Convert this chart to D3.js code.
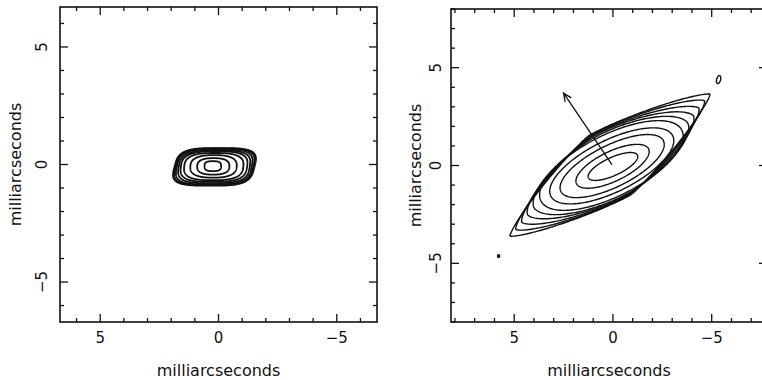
<!DOCTYPE html>
<html>
<head>
<meta charset="utf-8">
<script src="https://cdn.jsdelivr.net/npm/d3@7"></script>
<style>
  body { margin: 0; background: #fff; }
  svg { display: block; }
  text { font-family: "DejaVu Sans", sans-serif; fill: #111; }
</style>
</head>
<body>
<svg id="chart" width="762" height="380"></svg>
<script>
// Labelled axis ticks, milliarcseconds (east to the left)
const majorTicks = [5, 0, -5];
const tickLabels = ["5", "0", "\u22125"];
const axisTitle = "milliarcseconds";

// Left map: nested contours, outermost first
const leftCx    = [0.17, 0.17, 0.18, 0.18, 0.19, 0.20, 0.21, 0.22, 0.24];
const leftCy    = [-0.10, -0.10, -0.10, -0.10, -0.09, -0.09, -0.08, -0.08, -0.07];
const leftA     = [1.69, 1.64, 1.58, 1.50, 1.40, 1.25, 0.98, 0.68, 0.35];
const leftB     = [0.80, 0.78, 0.75, 0.70, 0.65, 0.58, 0.48, 0.35, 0.21];
const leftPow   = [3.6, 3.5, 3.4, 3.2, 3.0, 2.8, 2.6, 2.6, 3.0];
const leftShear = [0.25, 0.23, 0.20, 0.17, 0.14, 0.10, 0.06, 0.03, 0.0];

// Right map: nested contours, outermost first (position angle in degrees)
const rightCx  = [0.15, 0.14, 0.13, 0.12, 0.10, 0.08, 0.06, 0.04, 0.02, 0.0];
const rightCy  = [0.02, 0.02, 0.01, 0.01, 0.0, 0.0, -0.02, -0.03, -0.04, -0.05];
const rightA   = [6.23, 5.80, 5.35, 4.90, 4.45, 4.00, 3.45, 2.90, 2.03, 1.37];
const rightB   = [1.85, 1.80, 1.77, 1.72, 1.66, 1.57, 1.32, 1.07, 0.76, 0.46];
const rightPow = [1.25, 1.35, 1.45, 1.6, 1.8, 2.0, 2.0, 2.0, 2.0, 2.0];
const rightPA  = [-54.4, -55.5, -57, -59, -61, -63, -63.4, -63.4, -64, -65];

// Isolated small components in the right map
const blobX = [-5.35, 5.79];
const blobY = [4.39, -4.63];
const blobA = [0.21, 0.07];
const blobB = [0.10, 0.05];
const blobPA = [-15, 0];

// Direction arrow in the right map (start, end)
const arrowFrom = [0.05, 0.05];
const arrowTo = [2.5, 3.7];

const svg = d3.select("#chart");

function contourPoints(c) {
  const n = 240, pts = [];
  const pa = c.pa * Math.PI / 180;
  const e1 = [Math.sin(pa), Math.cos(pa)];
  const e2 = [Math.cos(pa), -Math.sin(pa)];
  for (let i = 0; i < n; i++) {
    const t = 2 * Math.PI * i / n;
    const ct = Math.cos(t), st = Math.sin(t);
    const u = c.a * Math.sign(ct) * Math.pow(Math.abs(ct), 2 / c.p);
    const v = c.b * Math.sign(st) * Math.pow(Math.abs(st), 2 / c.p);
    let dx = u * e1[0] + v * e2[0];
    const dy = u * e1[1] + v * e2[1];
    dx += -(c.shear || 0) * dy;
    pts.push([c.cx + dx, c.cy + dy]);
  }
  return pts;
}

function drawPanel(opt) {
  const x = d3.scaleLinear().domain(opt.xDomain).range(opt.xRange);
  const y = d3.scaleLinear().domain(opt.yDomain).range(opt.yRange);
  const g = svg.append("g");
  const clipId = "clip-" + opt.id;
  g.append("clipPath").attr("id", clipId).append("rect")
    .attr("x", opt.xRange[0]).attr("y", opt.yRange[1])
    .attr("width", opt.xRange[1] - opt.xRange[0])
    .attr("height", opt.yRange[0] - opt.yRange[1]);

  const line = d3.line().x(d => x(d[0])).y(d => y(d[1])).curve(d3.curveLinearClosed);
  const cg = g.append("g").attr("clip-path", `url(#${clipId})`);
  cg.selectAll("path.contour").data(opt.contours).join("path")
    .attr("class", "contour")
    .attr("d", d => line(contourPoints(d)))
    .attr("fill", d => d.fill || "none")
    .attr("stroke", "#111")
    .attr("stroke-width", opt.strokeWidth)
    .attr("stroke-linejoin", "round");

  if (opt.arrow) {
    const x0 = x(opt.arrow[0][0]), y0 = y(opt.arrow[0][1]);
    const x1 = x(opt.arrow[1][0]), y1 = y(opt.arrow[1][1]);
    const ang = Math.atan2(y1 - y0, x1 - x0);
    const hl = 9, ha = 0.42;
    const ap = d3.path();
    ap.moveTo(x0, y0); ap.lineTo(x1, y1);
    ap.moveTo(x1 - hl * Math.cos(ang - ha), y1 - hl * Math.sin(ang - ha));
    ap.lineTo(x1, y1);
    ap.lineTo(x1 - hl * Math.cos(ang + ha), y1 - hl * Math.sin(ang + ha));
    cg.append("path").attr("d", ap.toString()).attr("fill", "none")
      .attr("stroke", "#111").attr("stroke-width", 1.3);
  }

  // frame
  const [xl, xr] = opt.xRange, [yb, yt] = opt.yRange;
  g.append("rect").attr("x", xl).attr("y", yt).attr("width", xr - xl).attr("height", yb - yt)
    .attr("fill", "none").attr("stroke", "#111").attr("stroke-width", 1.6);

  // inward ticks on all four sides, every 1 mas, longer at multiples of 5
  const xt = d3.range(Math.ceil(Math.min(...opt.xDomain)), Math.floor(Math.max(...opt.xDomain)) + 1);
  const yt2 = d3.range(Math.ceil(Math.min(...opt.yDomain)), Math.floor(Math.max(...opt.yDomain)) + 1);
  const len = v => (v % 5 === 0 ? 8 : 4);
  const tg = g.append("g").attr("stroke", "#111").attr("stroke-width", 1.3);
  xt.forEach(v => {
    tg.append("line").attr("x1", x(v)).attr("x2", x(v)).attr("y1", yb).attr("y2", yb - len(v));
    tg.append("line").attr("x1", x(v)).attr("x2", x(v)).attr("y1", yt).attr("y2", yt + len(v));
  });
  yt2.forEach(v => {
    tg.append("line").attr("y1", y(v)).attr("y2", y(v)).attr("x1", xl).attr("x2", xl + len(v));
    tg.append("line").attr("y1", y(v)).attr("y2", y(v)).attr("x1", xr).attr("x2", xr - len(v));
  });

  // tick labels
  majorTicks.forEach((v, i) => {
    g.append("text").attr("x", x(v)).attr("y", 343).attr("text-anchor", "middle")
      .attr("font-size", 15).text(tickLabels[i]);
    g.append("text").attr("transform", `translate(${opt.yLabelX},${y(v)}) rotate(-90)`)
      .attr("text-anchor", "middle").attr("font-size", 15).text(tickLabels[i]);
  });

  // axis titles
  g.append("text").attr("x", (xl + Math.min(xr, opt.titleRight)) / 2).attr("y", 376)
    .attr("text-anchor", "middle").attr("font-size", 16).text(axisTitle);
  g.append("text").attr("transform", `translate(${opt.yTitleX},${(yb + yt) / 2}) rotate(-90)`)
    .attr("text-anchor", "middle").attr("font-size", 16).text(axisTitle);
}

const leftContours = leftA.map((a, i) => ({
  cx: leftCx[i], cy: leftCy[i], a, b: leftB[i], p: leftPow[i], pa: 90, shear: leftShear[i]
}));

const rightContours = rightA.map((a, i) => ({
  cx: rightCx[i], cy: rightCy[i], a, b: rightB[i], p: rightPow[i], pa: rightPA[i]
})).concat(blobX.map((bx, i) => ({
  cx: bx, cy: blobY[i], a: blobA[i], b: blobB[i], p: 2, pa: blobPA[i], fill: i === 1 ? "#111" : "none"
})));

drawPanel({
  id: "left",
  xDomain: [6.7, -6.7], xRange: [60, 377],
  yDomain: [-6.7, 6.7], yRange: [322, 7],
  contours: leftContours, strokeWidth: 1.8,
  yLabelX: 47, yTitleX: 21, titleRight: 377
});

drawPanel({
  id: "right",
  xDomain: [8.2, -7.8], xRange: [451, 767],
  yDomain: [-8, 8], yRange: [322, 9],
  contours: rightContours, strokeWidth: 1.4,
  arrow: [arrowFrom, arrowTo],
  yLabelX: 441, yTitleX: 421, titleRight: 775
});
</script>
</body>
</html>
